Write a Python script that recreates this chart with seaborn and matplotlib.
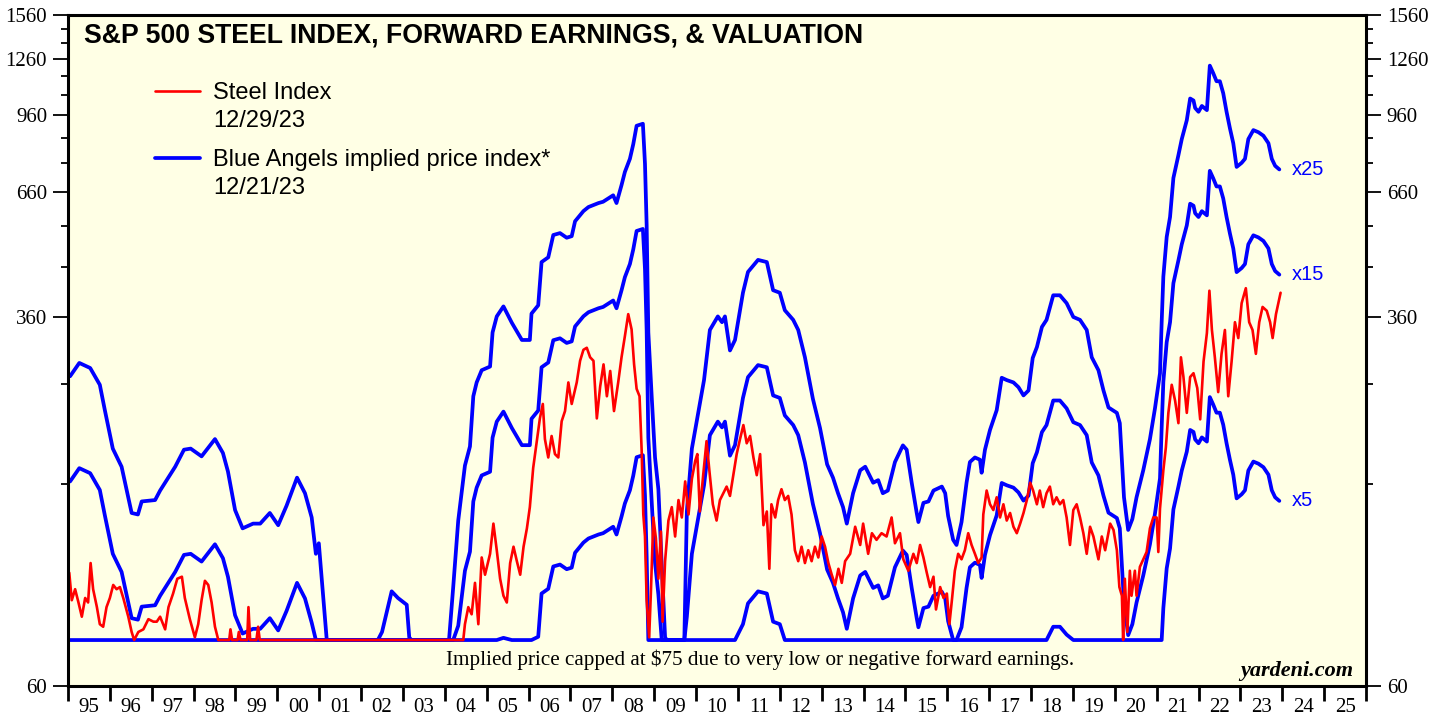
import numpy as np
import matplotlib
matplotlib.use("Agg")
import matplotlib.pyplot as plt
import seaborn as sns

# S&P 500 steel index (red); values below 75 are drawn at the cap
steel_t = [1995.03, 1995.09, 1995.17, 1995.25, 1995.33, 1995.41, 1995.48, 1995.54, 1995.60, 1995.69,
           1995.76, 1995.84, 1995.92, 1996.00, 1996.08, 1996.16, 1996.24, 1996.32, 1996.44, 1996.52,
           1996.58, 1996.68, 1996.80, 1996.92, 1997.04, 1997.12, 1997.20, 1997.32, 1997.40, 1997.51,
           1997.61, 1997.72, 1997.79, 1997.91, 1998.03, 1998.11, 1998.19, 1998.27, 1998.35, 1998.43,
           1998.51, 1998.59, 1998.85, 1998.88, 1998.92, 1999.05, 1999.08, 1999.12, 1999.28, 1999.31,
           1999.35, 1999.50, 1999.54, 1999.58, 2004.40,
           2004.44, 2004.48, 2004.56, 2004.64, 2004.72, 2004.80, 2004.88, 2004.96, 2005.08, 2005.16,
           2005.24, 2005.32, 2005.40, 2005.48, 2005.56, 2005.64, 2005.72, 2005.80, 2005.88, 2005.96,
           2006.03, 2006.11, 2006.19, 2006.27, 2006.34, 2006.39, 2006.47, 2006.55, 2006.63, 2006.71,
           2006.79, 2006.87, 2006.95, 2007.03, 2007.15, 2007.23, 2007.31, 2007.39, 2007.47, 2007.55,
           2007.63, 2007.71, 2007.79, 2007.87, 2007.95, 2008.04, 2008.14, 2008.22, 2008.30, 2008.38,
           2008.46, 2008.52, 2008.58, 2008.65, 2008.70, 2008.74, 2008.78, 2008.82, 2008.88, 2008.92,
           2008.98, 2009.04, 2009.10, 2009.16, 2009.20, 2009.26, 2009.34, 2009.42, 2009.50, 2009.58,
           2009.66, 2009.74, 2009.82, 2009.90, 2009.98, 2010.03, 2010.09, 2010.17, 2010.25, 2010.32,
           2010.40, 2010.49, 2010.57, 2010.65, 2010.73, 2010.81, 2010.89, 2010.97, 2011.05, 2011.13,
           2011.21, 2011.29, 2011.37, 2011.45, 2011.53, 2011.61, 2011.69, 2011.75, 2011.80, 2011.89,
           2011.96, 2012.04, 2012.12, 2012.20, 2012.28, 2012.36, 2012.44, 2012.52, 2012.60, 2012.68,
           2012.76, 2012.84, 2012.92, 2013.00, 2013.08, 2013.16, 2013.24, 2013.32, 2013.40, 2013.48,
           2013.56, 2013.68, 2013.80, 2013.92, 2013.99, 2014.11, 2014.20, 2014.31, 2014.43, 2014.55,
           2014.67, 2014.75, 2014.87, 2014.95, 2015.07, 2015.19, 2015.27, 2015.35, 2015.43, 2015.51,
           2015.59, 2015.67, 2015.73, 2015.83, 2015.91, 2015.99, 2016.05, 2016.11, 2016.18, 2016.26,
           2016.34, 2016.42, 2016.50, 2016.58, 2016.66, 2016.74, 2016.82, 2016.86, 2016.94, 2017.02,
           2017.10, 2017.18, 2017.26, 2017.34, 2017.42, 2017.50, 2017.58, 2017.66, 2017.74, 2017.82,
           2017.90, 2017.98, 2018.05, 2018.14, 2018.21, 2018.29, 2018.37, 2018.45, 2018.53, 2018.61,
           2018.69, 2018.77, 2018.85, 2018.93, 2019.01, 2019.09, 2019.17, 2019.25, 2019.33, 2019.41,
           2019.49, 2019.61, 2019.69, 2019.77, 2019.89, 2019.97, 2020.05, 2020.11, 2020.17, 2020.20,
           2020.24, 2020.30, 2020.36, 2020.40, 2020.48, 2020.52, 2020.60, 2020.68, 2020.76, 2020.84,
           2020.92, 2021.00, 2021.04, 2021.08, 2021.16, 2021.22, 2021.28, 2021.36, 2021.44, 2021.52,
           2021.58, 2021.64, 2021.72, 2021.80, 2021.88, 2021.97, 2022.04, 2022.12, 2022.20, 2022.26,
           2022.32, 2022.39, 2022.47, 2022.55, 2022.63, 2022.71, 2022.79, 2022.87, 2022.95, 2023.03,
           2023.13, 2023.21, 2023.29, 2023.37, 2023.45, 2023.53, 2023.63, 2023.71, 2023.77, 2023.85,
           2023.96]
steel = [104, 91, 96, 90, 84, 92, 90, 109, 96, 88,
         81, 80, 88, 92, 98, 96, 97, 92, 84, 78,
         75, 78, 79, 83, 82, 82, 84, 79, 88, 94,
         101, 102, 92, 83, 76, 81, 91, 100, 98, 90,
         80, 75, 75, 79, 75, 75, 78, 75, 75, 88,
         75, 75, 80, 75, 75,
         75, 81, 88, 85, 99, 81, 112, 103, 114, 132,
         116, 101, 93, 90, 109, 118, 110, 103, 118, 129,
         143, 173, 195, 220, 236, 199, 182, 202, 185, 182,
         217, 228, 262, 236, 262, 291, 307, 310, 296, 291,
         220, 257, 286, 245, 277, 228, 262, 296, 328, 365,
         339, 286, 254, 245, 189, 138, 124, 91, 76, 94,
         136, 123, 101, 127, 82, 110, 134, 143, 124, 148,
         136, 162, 138, 164, 179, 185, 140, 167, 197, 170,
         145, 134, 148, 153, 158, 151, 167, 185, 199, 213,
         195, 202, 182, 167, 185, 131, 140, 106, 145, 136,
         148, 156, 148, 151, 138, 116, 110, 118, 109, 116,
         110, 118, 112, 124, 118, 109, 103, 98, 106, 99,
         110, 114, 130, 119, 132, 114, 126, 122, 126, 124,
         136, 120, 126, 111, 105, 114, 109, 119, 112, 104,
         97, 102, 87, 97, 92, 94, 81, 91, 105, 114,
         111, 116, 126, 119, 114, 109, 112, 138, 155, 145,
         141, 150, 136, 145, 134, 139, 130, 126, 132, 139,
         148, 161, 155, 145, 155, 143, 153, 158, 145, 150,
         145, 148, 136, 119, 141, 145, 136, 126, 114, 130,
         124, 111, 124, 116, 132, 128, 116, 97, 93, 75,
         101, 78, 105, 93, 105, 93, 107, 111, 115, 129,
         136, 136, 115, 142, 171, 191, 226, 259, 240, 215,
         296, 269, 226, 269, 274, 255, 219, 290, 333, 409,
         338, 296, 250, 301, 338, 245, 290, 351, 325, 385,
         414, 351, 338, 301, 351, 378, 371, 351, 325, 365,
         405]

# Blue Angels implied price at 25x forward earnings (below 75 where the chart only shows the cap)
ba_t = [1995.05, 1995.27, 1995.53, 1995.76, 1995.88, 1996.07, 1996.28, 1996.52, 1996.67, 1996.76,
        1997.08, 1997.20, 1997.56, 1997.77, 1997.93, 1998.19, 1998.51, 1998.70, 1998.82, 1998.99,
        1999.17, 1999.42, 1999.59, 1999.82, 2000.02, 2000.22, 2000.47, 2000.66, 2000.82, 2000.92,
        2000.99, 2001.18, 2001.25, 2002.40, 2002.50, 2002.73, 2002.88, 2003.09, 2003.15, 2003.20,
        2004.05, 2004.10, 2004.20, 2004.32, 2004.48, 2004.60, 2004.68, 2004.76, 2004.88, 2005.08,
        2005.14, 2005.24, 2005.40, 2005.60, 2005.84, 2006.03, 2006.07, 2006.23, 2006.31, 2006.47,
        2006.59, 2006.75, 2006.91, 2007.03, 2007.11, 2007.31, 2007.43, 2007.67, 2007.78, 2008.02,
        2008.10, 2008.22, 2008.30, 2008.42, 2008.50, 2008.58, 2008.73, 2008.78, 2008.82, 2008.86,
        2008.94, 2009.02, 2009.10, 2009.18, 2009.26, 2009.30, 2009.72, 2009.78, 2009.90, 2010.02,
        2010.19, 2010.33, 2010.52, 2010.62, 2010.69, 2010.81, 2010.93, 2011.12, 2011.24, 2011.48,
        2011.69, 2011.84, 2012.00, 2012.12, 2012.32, 2012.44, 2012.60, 2012.79, 2012.96, 2013.13,
        2013.27, 2013.39, 2013.51, 2013.60, 2013.75, 2013.92, 2014.04, 2014.23, 2014.35, 2014.46,
        2014.58, 2014.75, 2014.94, 2015.03, 2015.15, 2015.27, 2015.31, 2015.43, 2015.55, 2015.67,
        2015.87, 2015.95, 2016.02, 2016.14, 2016.22, 2016.34, 2016.46, 2016.54, 2016.66, 2016.78,
        2016.82, 2016.90, 2017.02, 2017.18, 2017.30, 2017.42, 2017.58, 2017.70, 2017.82, 2017.94,
        2018.04, 2018.14, 2018.26, 2018.37, 2018.53, 2018.69, 2018.85, 2019.01, 2019.17, 2019.33,
        2019.45, 2019.61, 2019.73, 2019.85, 2020.05, 2020.12, 2020.22, 2020.32, 2020.42, 2020.52,
        2020.68, 2020.84, 2020.96, 2021.08, 2021.12, 2021.16, 2021.24, 2021.32, 2021.40, 2021.52,
        2021.60, 2021.72, 2021.80, 2021.88, 2021.92, 2022.00, 2022.08, 2022.20, 2022.27, 2022.35,
        2022.43, 2022.51, 2022.59, 2022.67, 2022.75, 2022.83, 2022.91, 2023.03, 2023.11, 2023.19,
        2023.31, 2023.43, 2023.55, 2023.67, 2023.75, 2023.83, 2023.93]
ba_x25 = [270, 288, 281, 259, 229, 190, 174, 139, 138, 147,
          148, 155, 174, 189, 190, 183, 199, 186, 170, 141,
          129, 132, 132, 139, 131, 144, 165, 153, 136, 114,
          120, 70, 60, 60, 78, 95, 92, 89, 76, 60,
          60, 75, 97, 134, 175, 192, 245, 262, 278, 283,
          334, 361, 379, 350, 322, 322, 366, 381, 470, 481,
          536, 541, 529, 533, 573, 602, 614, 626, 630, 650,
          626, 683, 728, 776, 833, 911, 920, 757, 562, 334,
          245, 182, 156, 108, 76, 60, 60, 140, 190, 218,
          265, 338, 361, 351, 361, 306, 322, 405, 448, 475,
          470, 410, 405, 372, 355, 338, 296, 242, 210, 176,
          165, 153, 143, 132, 153, 171, 174, 161, 163, 153,
          155, 178, 193, 189, 161, 139, 133, 146, 147, 155,
          158, 153, 137, 122, 119, 133, 161, 178, 182, 180,
          169, 189, 208, 229, 268, 265, 262, 256, 246, 252,
          295, 311, 343, 355, 400, 400, 385, 360, 355, 338,
          296, 278, 252, 232, 226, 215, 150, 128, 135, 150,
          171, 199, 231, 274, 351, 438, 531, 585, 707, 790,
          854, 936, 1040, 1030, 993, 975, 1003, 983, 1220, 1177,
          1131, 1131, 1067, 975, 900, 837, 746, 761, 776, 854,
          892, 883, 868, 837, 776, 750, 737]

multiples = [25, 15, 5]
mult_labels = ["x25", "x15", "x5"]
price_cap = 75

y_major = [60, 360, 660, 960, 1260, 1560]
y_minor = [160, 260, 460, 560, 760, 860, 1060, 1160, 1360, 1460]
year_ticks = list(range(1995, 2027))
year_labels = ["95", "96", "97", "98", "99", "00", "01", "02", "03", "04", "05",
               "06", "07", "08", "09", "10", "11", "12", "13", "14", "15", "16",
               "17", "18", "19", "20", "21", "22", "23", "24", "25"]

sns.set_theme(style="ticks")
plt.rcParams["font.family"] = ["Liberation Sans", "DejaVu Sans"]
plt.rcParams["text.color"] = "black"
plt.rcParams["xtick.color"] = "black"
plt.rcParams["ytick.color"] = "black"

fig = plt.figure(figsize=(14.46, 7.17), dpi=100)
fig.patch.set_facecolor("white")
ax = fig.add_axes([68 / 1446, 1 - 686 / 717, 1298 / 1446, 671 / 717])
ax.set_facecolor("#ffffe5")

# blue angels: implied price = multiple x forward earnings, capped at $75
x25 = np.array(ba_x25, dtype=float)
for m in multiples:
    implied = np.maximum(x25 * m / 25, price_cap)
    sns.lineplot(x=ba_t, y=implied, ax=ax, color="#0000ff", linewidth=2.7,
                 estimator=None, sort=False, legend=False)

sns.lineplot(x=steel_t, y=steel, ax=ax, color="#ff0000", linewidth=1.9,
             estimator=None, sort=False, legend=False)

# multiple labels at the right end of each blue line
for m, lab in zip(multiples, mult_labels):
    ax.text(ba_t[-1] + 0.3, max(x25[-1] * m / 25, price_cap), lab, color="#0000ff",
            fontsize=14.5, ha="left", va="center")

ax.set_yscale("log")
ax.set_ylim(60, 1560)
ax.set_xlim(1995, 2026)
ax.set_yticks(y_major, labels=[str(v) for v in y_major])
ax.set_yticks(y_minor, minor=True)
ax.yaxis.set_minor_formatter(matplotlib.ticker.NullFormatter())
ax.set_xticks(year_ticks, labels=[""] * len(year_ticks))
ax.set_xticks([y + 0.5 for y in year_ticks[:-1]], labels=year_labels, minor=True)
ax.set_xlabel("")
ax.set_ylabel("")

ax.tick_params(axis="y", which="major", direction="out", length=11, width=1.3,
               left=True, right=True, labelleft=True, labelright=True,
               labelsize=15, labelfontfamily="Liberation Serif", pad=4)
ax.tick_params(axis="y", which="minor", direction="out", length=5, width=1.3,
               left=True, right=True)
ax.tick_params(axis="x", which="major", direction="out", length=11, width=2, bottom=True)
ax.tick_params(axis="x", which="minor", length=0, pad=9, labelsize=15,
               labelfontfamily="Liberation Serif")

for sp in ax.spines.values():
    sp.set_visible(True)
    sp.set_color("black")
    sp.set_linewidth(2.2)

ax.text(0.0123, 0.970, "S&P 500 STEEL INDEX, FORWARD EARNINGS, & VALUATION",
        transform=ax.transAxes, fontsize=19.2, fontweight="bold", ha="left", va="center")

# legend drawn by hand so the key sits on the first line of each entry
ax.plot([0.067, 0.1017], [0.8867, 0.8867], transform=ax.transAxes, color="#ff0000", linewidth=1.9)
ax.plot([0.067, 0.1017], [0.787, 0.787], transform=ax.transAxes, color="#0000ff", linewidth=2.7)
ax.text(0.1117, 0.884, "Steel Index", transform=ax.transAxes, fontsize=17, va="center")
ax.text(0.1117, 0.842, "12/29/23", transform=ax.transAxes, fontsize=17, va="center")
ax.text(0.1117, 0.784, "Blue Angels implied price index*", transform=ax.transAxes,
        fontsize=17, va="center")
ax.text(0.1117, 0.742, "12/21/23", transform=ax.transAxes, fontsize=17, va="center")

ax.text(0.533, 0.0387, "Implied price capped at $75 due to very low or negative forward earnings.",
        transform=ax.transAxes, fontsize=15.2, family="Liberation Serif", ha="center", va="center")
ax.text(0.990, 0.022, "yardeni.com", transform=ax.transAxes, fontsize=16,
        family="Liberation Serif", fontweight="bold", fontstyle="italic", ha="right", va="center")

plt.savefig("out.png", dpi=100)
